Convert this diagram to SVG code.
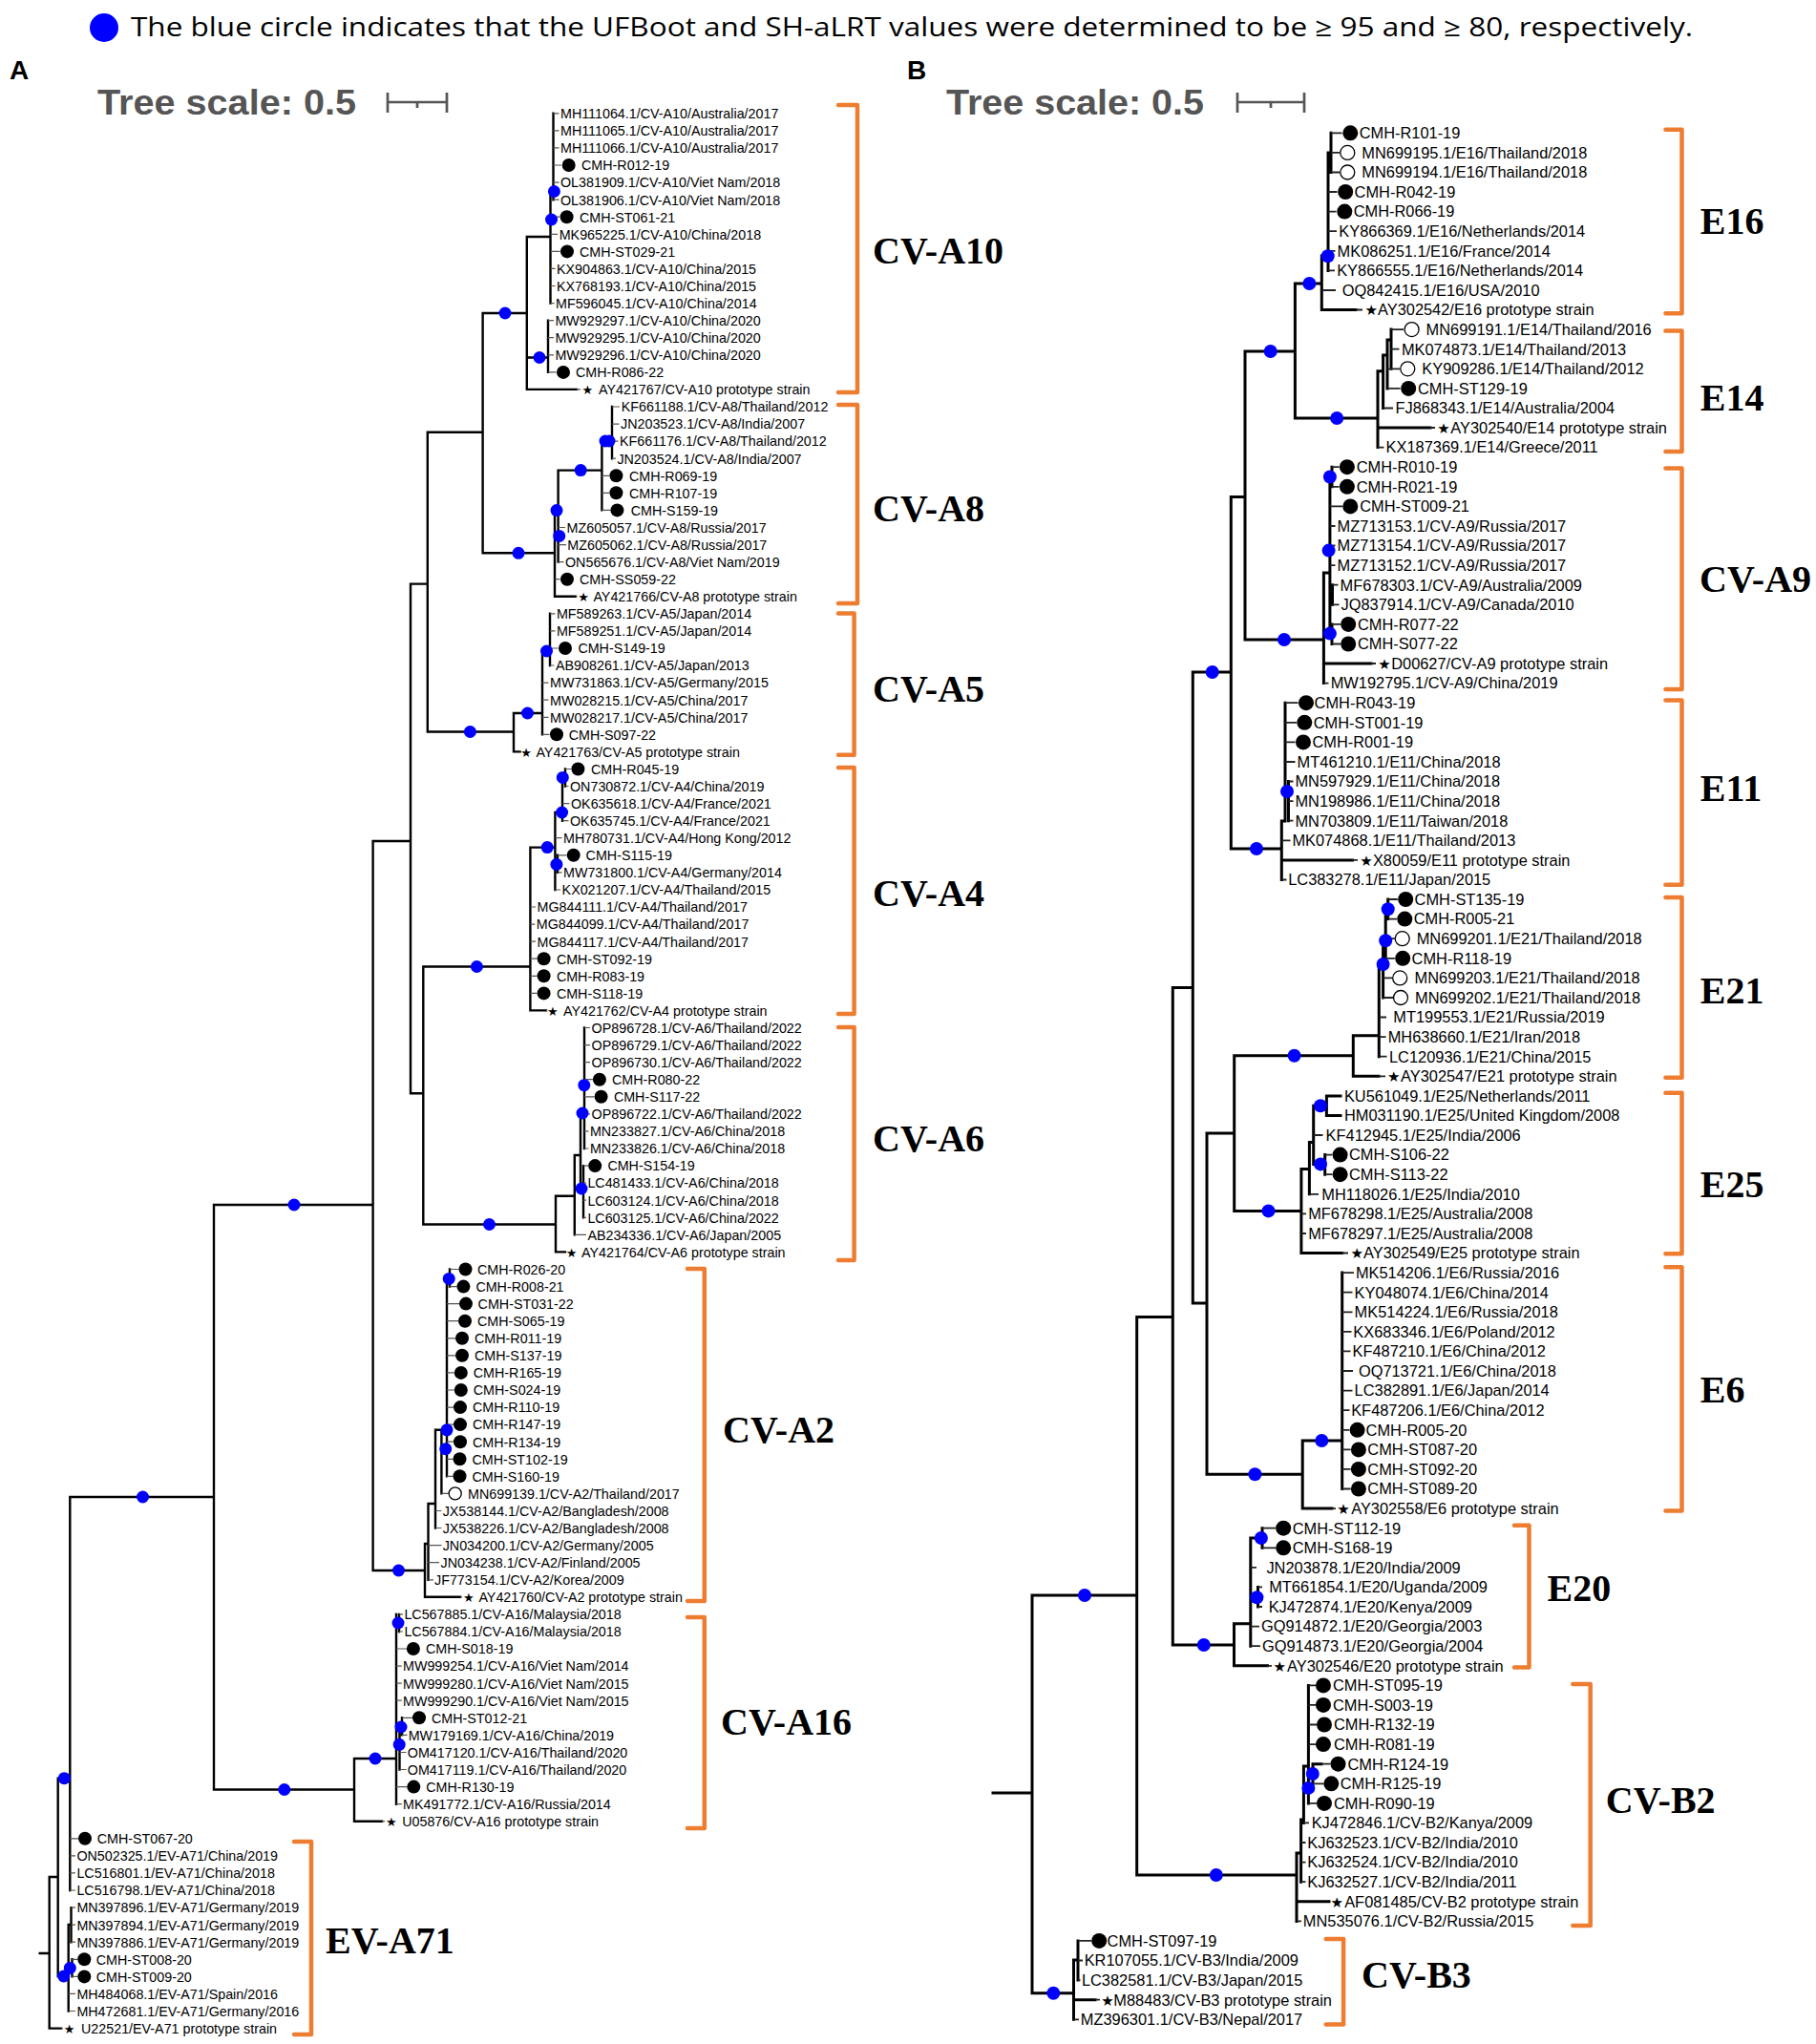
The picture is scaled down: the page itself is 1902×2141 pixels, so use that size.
<svg xmlns="http://www.w3.org/2000/svg" width="1902" height="2141" viewBox="0 0 1902 2141">
<style>
text{font-family:"Liberation Sans",Arial,sans-serif;fill:#000}
.a{font-size:14.3px}
.b{font-size:16.4px}
.st{font-family:"DejaVu Sans",sans-serif;font-size:13px}
.stb{font-family:"DejaVu Sans",sans-serif;font-size:15px}
.cl{font-family:"Liberation Serif","Times New Roman",serif;font-weight:bold;font-size:40px}
.ts{font-weight:bold;font-size:36px;fill:#555}
.pl{font-weight:bold;font-size:28px}
.e{fill:none;stroke:#000;stroke-width:2.4;stroke-linecap:square}
.eb{fill:none;stroke:#000;stroke-width:3;stroke-linecap:square}
.lf{fill:none;stroke:#555;stroke-width:1.2}
.lfb{fill:none;stroke:#222;stroke-width:1.8}
.br{fill:none;stroke:#ED7D31;stroke-width:4.5;stroke-linejoin:round;stroke-linecap:round}
.sc{fill:none;stroke:#555;stroke-width:2.7}
.k{fill:#000}
.o{fill:#fff;stroke:#000;stroke-width:1.3}
.bd{fill:#0000FF}
</style>
<g id="legend">
<circle class="bd" cx="109" cy="29" r="15"/>
<text x="137" y="38" style="font-family:'Open Sans','Liberation Sans',sans-serif;font-size:27px" textLength="1636" lengthAdjust="spacingAndGlyphs">The blue circle indicates that the UFBoot and SH-aLRT values were determined to be ≥ 95 and ≥ 80, respectively.</text>
<text class="pl" x="10" y="83">A</text>
<text class="pl" x="950" y="83">B</text>
<text class="ts" x="102" y="120" textLength="271" lengthAdjust="spacingAndGlyphs">Tree scale: 0.5</text>
<path class="sc" d="M406 107H468M406 97V118M468 97V118M437 107V113"/>
<text class="ts" x="991" y="120" textLength="270" lengthAdjust="spacingAndGlyphs">Tree scale: 0.5</text>
<path class="sc" d="M1296 107H1366M1296 97V118M1366 97V118M1331 107V113"/>
</g>
<g id="connectors">
<path class="e" d="M41.7 2046H51.7M51.7 1966V2124.6H64M51.7 1966H60.7M60.7 1862.7V2070M60.7 1862.7H73.3M73.3 1568V1980M60.7 2070H71.7M71.7 2016V2106.5M71.7 2016H74.5M74.5 1998.1V2034.2M71.7 2061.4H75.5M75.5 2052.3V2070.4M73.3 1568H224M224 1262V1874.5M224 1262H390.6M224 1874.5H371M371 1842V1907.7H400M371 1842H415M390.6 881V1645M390.6 1645H445M390.6 881H430M430 611.6V1145.3M430 611.6H447.8M447.8 452.8V766.5M447.8 452.8H505.6M447.8 766.5H538M430 1145.3H443.3M443.3 1012.5V1282.5M443.3 1012.5H555.4M443.3 1282.5H582M505.6 328V579.3M505.6 328H551.8M505.6 579.3H581
M551.8 248V407.9H604M551.8 248H576.5M576.5 200V317.6M576.5 200H579.5M579.5 118.8V209.2M551.8 374.5H574M574 335.6V389.9
M581 534.6V624.8H603M581 534.6H584.6M584.6 492.6V588.6M584.6 492.6H630.4M630.4 462V534.4M630.4 462H641M641 426V480.2
M538 747V787.4H544.6M538 747H568M568 682V769.3M568 682H576M576 642.8V697
M555.4 887.6V1058.4H572M555.4 887.6H581.4M581.4 851V932M581.4 851H589M589 814.4V859.7M589 814.4H592M592 805.5V823.5M581.4 905.4H584M584 895.8V913.9
M582 1252.8V1311.4H592M582 1252.8H601.8M601.8 1210V1293.4M601.8 1210H608M608 1166V1245M608 1166H612M612 1076.5V1203M608 1245H611M611 1221.1V1275.3
M445 1617V1672.8H482M445 1617H448.5M448.5 1575V1654.8M448.5 1575H456M456 1497.8V1600.5M456 1497.8H468M462.4 1497.8V1564.4M468 1339.4V1546.3M468 1339.4H471M471 1329.5V1347.6
M415 1690.9V1889.7M415 1700H418M418 1690.9V1709M415 1827.3H418.5M418.5 1809V1853.5M418.5 1809H421M421 1799.3V1817.4"/>
<path class="lf" d="M579.5 118.8H585.5M579.5 136.9H585.5M579.5 154.9H585.5M579.5 173H588M579.5 191.1H585.5M579.5 209.2H585.5M576.5 227.2H586M576.5 245.3H584M576.5 263.4H586.5M576.5 281.4H581.5M576.5 299.5H581.5M576.5 317.6H580.5M574 335.6H580M574 353.7H580M574 371.8H580M574 389.9H582.5M604 407.9H608
M641 426H649M641 444.1H648.5M641 462.1H647.5M641 480.2H645M630.4 498.3H638M630.4 516.3H638M630.4 534.4H639M584.6 552.5H592M584.6 570.6H593M584.6 588.6H590.5M581 606.7H586.5M603 624.8H604
M576 642.8H581.5M576 660.9H581.5M576 679H584.5M576 697H580.5M568 715.1H574.5M568 733.2H574.5M568 751.3H574.5M568 769.3H575.5M544.6 787.4H545
M592 805.5H598M592 823.5H595.5M589 841.6H596.5M589 859.7H595.5M581.4 877.7H588.5M584 895.8H593.5M584 913.9H588.5M581.4 932H587M555.4 950H561M555.4 968.1H560.3M555.4 986.2H561M555.4 1004.2H562.5M555.4 1022.3H562.5M555.4 1040.4H562.5M572 1058.4H573
M612 1076.5H618M612 1094.6H618M612 1112.7H618M612 1130.7H620.8M612 1148.8H622.5M612 1166.9H618M612 1184.9H616.5M612 1203H616.5M611 1221.1H616M611 1239.1H614M611 1257.2H614M611 1275.3H614M601.8 1293.4H614
M471 1329.5H480.5M471 1347.6H478.4M468 1365.6H481M468 1383.7H480M468 1401.8H477M468 1419.8H477M468 1437.9H475.8M468 1456H475.8M468 1474.1H475M468 1492.1H475M468 1510.2H475M468 1528.3H474.5M468 1546.3H474.5M462.4 1564.4H470M456 1582.5H462.5M456 1600.5H462.5M448.5 1618.6H462.5M448.5 1636.7H460M448.5 1654.8H454M482 1672.8H484
M418 1690.9H422M418 1709H422M415 1727H426M415 1745.1H420.8M415 1763.2H420.8M415 1781.2H420.8M421 1799.3H432M421 1817.4H426.5M418.5 1835.5H425.5M418.5 1853.5H425.5M415 1871.6H426.3M415 1889.7H420.8M400 1907.7H403
M73.3 1925.8H82M73.3 1943.9H79M73.3 1961.9H79M73.3 1980H79M74.5 1998.1H79M74.5 2016.2H79M74.5 2034.2H79M75.5 2052.3H81.3M75.5 2070.4H81.3M71.7 2088.4H79M71.7 2106.5H79M64 2124.6H66"/>
<path class="eb" d="M1040 1878H1081M1081 1671V2087.7M1081 1671H1190.7M1081 2087.7H1124.5M1190.7 1379.6V1964M1190.7 1964H1358M1190.7 1379.6H1228.3M1228.3 1034.6V1723M1228.3 1723H1292.5M1228.3 1034.6H1249.3M1249.3 704V1365M1249.3 704H1289.3M1249.3 1365H1264M1264 1187V1544.2M1264 1187H1292.7M1292.7 1105.8V1268.4M1292.7 1105.8H1417.3M1292.7 1268.4H1362.9M1264 1544.2H1364.2M1289.3 520.4V889M1289.3 520.4H1304M1304 368V670M1304 368H1356.4M1304 670H1386.4M1289.3 889H1342.3
M1356.4 297V438M1356.4 297H1384.3M1356.4 438H1443M1384.3 268V324.5H1420M1384.3 268H1391M1391 159.9V283.4M1391 159.9H1394M1394 139.3V180.5
M1443 388.8V468.6M1443 448H1498M1443 388.8H1448.6M1448.6 372V427.5M1448.6 372H1453M1453 356V406.9M1453 356H1457M1457 345.1V386.3
M1386.4 600V715.6M1386.4 695H1436M1386.4 600H1392.9M1392.9 499.5V663.6M1392.9 499.5H1395M1395 489.2V509.8M1392.9 623H1395.5M1395.5 612.7V633.3M1392.9 663.6H1395M1395 653.9V674.5
M1342.3 860V921.5M1342.3 900.9H1416.5M1342.3 860H1346M1346 736.2V860M1346 829H1349.5M1349.5 818.5V859.7
M1417.3 1084.7V1127.3H1444M1417.3 1084.7H1444.3M1444.3 1010V1106.7M1444.3 1010H1448.6M1448.6 983.2V1045M1448.6 985.2H1451.2M1451.2 952.3V1003.8M1451.2 952.3H1453.7M1453.7 942V962.6
M1362.9 1224.4V1312.5H1405.7M1362.9 1224.4H1371.4M1371.4 1196.5V1250.8M1371.4 1196.5H1375.7M1375.7 1158.2V1219.4M1375.7 1219.4H1387.7M1387.7 1209.6V1230.2M1375.7 1158.2H1389.4M1389.4 1147.9V1168.5M1389.4 1147.9H1404M1389.4 1168.5H1404
M1364.2 1509V1580.1H1395M1364.2 1509H1405.7M1405.7 1333.1V1559.5
M1292.5 1700.7V1744.8H1327.5M1292.5 1700.7H1309.8M1309.8 1611V1724.2M1309.8 1611H1322M1322 1600.7V1621.3M1309.8 1673.3H1317.5M1317.5 1662.4V1683
M1358 1941V2012.4M1358 1991.8H1392M1358 1941H1362.6M1362.6 1906V1971.2M1362.6 1906H1365.4M1365.4 1850V1909.4M1365.4 1850H1370.4M1370.4 1765.4V1888.9M1370.4 1858H1375M1375 1847.7V1868.3M1375 1847.7H1384
M1124.5 2053V2115.3M1124.5 2094.7H1147M1124.5 2053H1129M1129 2032.9V2074.1"/>
<path class="lfb" d="M1394 139.3H1405.5M1394 159.9H1403M1394 180.5H1403M1391 201H1400.5M1391 221.6H1399.5M1391 242.2H1400M1391 262.8H1398.5M1391 283.4H1398M1384.3 304H1399M1420 324.5H1427
M1457 345.1H1470M1457 365.7H1465.5M1453 386.3H1466M1453 406.9H1466.5M1448.6 427.5H1459M1498 448H1503M1443 468.6H1449.5
M1395 489.2H1402.5M1395 509.8H1402.5M1392.9 530.4H1406M1392.9 551H1398.5M1392.9 571.5H1398.5M1392.9 592.1H1398.5M1395.5 612.7H1401.5M1395.5 633.3H1402.5M1395 653.9H1404M1395 674.5H1404M1436 695H1441M1386.4 715.6H1391.5
M1346 736.2H1359.5M1346 756.8H1358M1346 777.4H1356.5M1346 798H1356.5M1349.5 818.5H1354.5M1349.5 839.1H1354.5M1349.5 859.7H1354.5M1342.3 880.3H1351.5M1416.5 900.9H1422M1342.3 921.5H1347.5
M1453.7 942H1463.8M1453.7 962.6H1463M1451.2 983.2H1460.8M1451.2 1003.8H1460.8M1448.6 1024.4H1458.5M1448.6 1045H1459.3M1444.3 1065.5H1452M1444.3 1086.1H1451.5M1444.3 1106.7H1452.5M1444 1127.3H1451
M1375.7 1189H1385.5M1387.7 1209.6H1395.3M1387.7 1230.2H1395.3M1371.4 1250.8H1381M1362.9 1271.4H1368M1362.9 1292H1368M1405.7 1312.5H1412
M1405.7 1333.1H1418M1405.7 1353.7H1416.5M1405.7 1374.3H1416.5M1405.7 1394.9H1415.5M1405.7 1415.4H1414.5M1405.7 1436H1417M1405.7 1456.6H1416.5M1405.7 1477.2H1413.5M1405.7 1497.8H1413.3M1405.7 1518.4H1414.6M1405.7 1538.9H1414.6M1405.7 1559.5H1414.6M1395 1580.1H1399
M1322 1600.7H1336M1322 1621.3H1336M1309.8 1641.9H1316M1317.5 1662.4H1322M1317.5 1683H1322M1309.8 1703.6H1319M1309.8 1724.2H1320M1327.5 1744.8H1332
M1370.4 1765.4H1378M1370.4 1785.9H1378M1370.4 1806.5H1379M1370.4 1827.1H1378M1384 1847.7H1393.5M1375 1868.3H1386.3M1370.4 1888.9H1379M1365.4 1909.4H1371M1362.6 1930H1367.5M1362.6 1950.6H1367.5M1362.6 1971.2H1367.5M1358 2012.4H1363
M1129 2032.9H1143M1129 2053.5H1134M1129 2074.1H1131.5M1147 2094.7H1152M1124.5 2115.3H1130"/>
</g>
<g id="support">
<g class="bd">
<circle cx="149.5" cy="1568" r="6.5"/><circle cx="308" cy="1262" r="6.5"/><circle cx="297.8" cy="1874.5" r="6.5"/><circle cx="393" cy="1842" r="6.5"/><circle cx="417.5" cy="1645" r="6.5"/><circle cx="492.4" cy="766.5" r="6.5"/><circle cx="499.4" cy="1012.5" r="6.5"/><circle cx="512.5" cy="1282.5" r="6.5"/><circle cx="529" cy="328" r="6.5"/><circle cx="543" cy="579.3" r="6.5"/>
<circle cx="67.3" cy="1862.7" r="6.5"/><circle cx="66.7" cy="2070" r="6.5"/><circle cx="73.3" cy="2061.4" r="6.5"/>
<circle cx="580.4" cy="200.5" r="6.5"/><circle cx="577.5" cy="230" r="6.5"/><circle cx="565" cy="374.5" r="6.5"/>
<circle cx="583" cy="534.6" r="6.5"/><circle cx="585.7" cy="561.4" r="6.5"/><circle cx="608.2" cy="492.6" r="6.5"/><circle cx="634" cy="462" r="6.5"/><circle cx="638" cy="462" r="6.5"/>
<circle cx="552.5" cy="747" r="6.5"/><circle cx="572.5" cy="682" r="6.5"/>
<circle cx="573.2" cy="887.6" r="6.5"/><circle cx="588.6" cy="851" r="6.5"/><circle cx="589.3" cy="814.4" r="6.5"/><circle cx="582.9" cy="905.4" r="6.5"/>
<circle cx="610" cy="1166" r="6.5"/><circle cx="611.8" cy="1136.7" r="6.5"/><circle cx="609" cy="1245" r="6.5"/>
<circle cx="470.2" cy="1339.4" r="6.5"/><circle cx="468" cy="1497.8" r="6.5"/><circle cx="466.7" cy="1517.7" r="6.5"/>
<circle cx="417" cy="1700" r="6.5"/><circle cx="420" cy="1809" r="6.5"/><circle cx="418.2" cy="1827.3" r="6.5"/>
<circle cx="1136" cy="1671" r="7"/><circle cx="1103.3" cy="2087.7" r="7"/><circle cx="1273.8" cy="1964" r="7"/><circle cx="1260.8" cy="1723" r="7"/><circle cx="1269.7" cy="704" r="7"/><circle cx="1355.6" cy="1105.8" r="7"/><circle cx="1328.5" cy="1268.4" r="7"/><circle cx="1314.4" cy="1544.2" r="7"/><circle cx="1330.7" cy="368" r="7"/><circle cx="1345" cy="670" r="7"/><circle cx="1316" cy="889" r="7"/>
<circle cx="1371.4" cy="297" r="7"/><circle cx="1400.2" cy="438" r="7"/><circle cx="1390.7" cy="268.2" r="7"/>
<circle cx="1392.9" cy="499.5" r="7"/><circle cx="1391.6" cy="576.6" r="7"/><circle cx="1392.9" cy="663.6" r="7"/>
<circle cx="1348" cy="829" r="7"/>
<circle cx="1453.7" cy="952.3" r="7"/><circle cx="1451.2" cy="985.2" r="7"/><circle cx="1448.6" cy="1010" r="7"/>
<circle cx="1383" cy="1158.2" r="7"/><circle cx="1383" cy="1219.4" r="7"/>
<circle cx="1384.3" cy="1509" r="7"/>
<circle cx="1320.9" cy="1611" r="7"/><circle cx="1316.4" cy="1673.3" r="7"/>
<circle cx="1374.8" cy="1858" r="7"/><circle cx="1370.4" cy="1872.9" r="7"/>
</g>
</g>
<g id="brackets">
<path class="br" d="M878 110H898V411H878M878 424H898V632H878M878 642.5H894.6V790.7H878M878 804H894.6V1062H878M878 1076H894.6V1320H878M720 1329H737.8V1677H720M720 1694H737.8V1915H720M308 1929H326V2131H308"/>
<path class="br" d="M1744.4 135.7H1761.5V328.3H1744.4M1744.4 346.5H1761.5V473H1744.4M1744.4 490.4H1761.5V722H1744.4M1744.4 733.4H1761.5V926.7H1744.4M1744.4 940H1761.5V1128.7H1744.4M1744.4 1144.8H1761.5V1313.2H1744.4M1744.4 1327.2H1761.5V1582.5H1744.4M1586 1597.7H1601.5V1746.6H1586M1647.3 1764H1665.7V2017H1647.3M1388.7 2031H1407.1V2120.6H1388.7"/>
</g>
<g id="clades">
<text class="cl" x="914" y="275.6">CV-A10</text>
<text class="cl" x="914" y="546">CV-A8</text>
<text class="cl" x="914" y="735">CV-A5</text>
<text class="cl" x="914" y="949">CV-A4</text>
<text class="cl" x="914" y="1206">CV-A6</text>
<text class="cl" x="757" y="1511">CV-A2</text>
<text class="cl" x="755" y="1817">CV-A16</text>
<text class="cl" x="341" y="2046">EV-A71</text>
<text class="cl" x="1780.8" y="245">E16</text>
<text class="cl" x="1780.8" y="429.5">E14</text>
<text class="cl" x="1780" y="620">CV-A9</text>
<text class="cl" x="1780.8" y="839.4">E11</text>
<text class="cl" x="1780.8" y="1051">E21</text>
<text class="cl" x="1780.8" y="1254">E25</text>
<text class="cl" x="1780.8" y="1469">E6</text>
<text class="cl" x="1620.6" y="1677">E20</text>
<text class="cl" x="1681.8" y="1899">CV-B2</text>
<text class="cl" x="1426" y="2082">CV-B3</text>
</g>
<g id="leavesA">
<g id="a000"><text class="a" x="587" y="124.1">MH111064.1/CV-A10/Australia/2017</text></g>
<g id="a001"><text class="a" x="587" y="142.2">MH111065.1/CV-A10/Australia/2017</text></g>
<g id="a002"><text class="a" x="587" y="160.2">MH111066.1/CV-A10/Australia/2017</text></g>
<g id="a003"><circle class="k" cx="595.7" cy="173" r="7"/><text class="a" x="609" y="178.3">CMH-R012-19</text></g>
<g id="a004"><text class="a" x="587" y="196.4">OL381909.1/CV-A10/Viet Nam/2018</text></g>
<g id="a005"><text class="a" x="587" y="214.5">OL381906.1/CV-A10/Viet Nam/2018</text></g>
<g id="a006"><circle class="k" cx="593.6" cy="227.2" r="7"/><text class="a" x="607" y="232.5">CMH-ST061-21</text></g>
<g id="a007"><text class="a" x="585.7" y="250.6">MK965225.1/CV-A10/China/2018</text></g>
<g id="a008"><circle class="k" cx="594" cy="263.4" r="7"/><text class="a" x="607" y="268.7">CMH-ST029-21</text></g>
<g id="a009"><text class="a" x="583" y="286.7">KX904863.1/CV-A10/China/2015</text></g>
<g id="a010"><text class="a" x="583" y="304.8">KX768193.1/CV-A10/China/2015</text></g>
<g id="a011"><text class="a" x="582" y="322.9">MF596045.1/CV-A10/China/2014</text></g>
<g id="a012"><text class="a" x="581.4" y="340.9">MW929297.1/CV-A10/China/2020</text></g>
<g id="a013"><text class="a" x="581.4" y="359">MW929295.1/CV-A10/China/2020</text></g>
<g id="a014"><text class="a" x="581.4" y="377.1">MW929296.1/CV-A10/China/2020</text></g>
<g id="a015"><circle class="k" cx="590" cy="389.9" r="7"/><text class="a" x="603" y="395.2">CMH-R086-22</text></g>
<g id="a016"><text class="a" y="413.2"><tspan class="st" x="609.5">★ </tspan><tspan x="627">AY421767/CV-A10 prototype strain</tspan></text></g>
<g id="a017"><text class="a" x="650.7" y="431.3">KF661188.1/CV-A8/Thailand/2012</text></g>
<g id="a018"><text class="a" x="650" y="449.4">JN203523.1/CV-A8/India/2007</text></g>
<g id="a019"><text class="a" x="649" y="467.4">KF661176.1/CV-A8/Thailand/2012</text></g>
<g id="a020"><text class="a" x="646.4" y="485.5">JN203524.1/CV-A8/India/2007</text></g>
<g id="a021"><circle class="k" cx="645.4" cy="498.3" r="7"/><text class="a" x="659" y="503.6">CMH-R069-19</text></g>
<g id="a022"><circle class="k" cx="645.4" cy="516.3" r="7"/><text class="a" x="659" y="521.6">CMH-R107-19</text></g>
<g id="a023"><circle class="k" cx="646.4" cy="534.4" r="7"/><text class="a" x="660.7" y="539.7">CMH-S159-19</text></g>
<g id="a024"><text class="a" x="593.6" y="557.8">MZ605057.1/CV-A8/Russia/2017</text></g>
<g id="a025"><text class="a" x="594.3" y="575.9">MZ605062.1/CV-A8/Russia/2017</text></g>
<g id="a026"><text class="a" x="592" y="593.9">ON565676.1/CV-A8/Viet Nam/2019</text></g>
<g id="a027"><circle class="k" cx="594" cy="606.7" r="7"/><text class="a" x="607" y="612">CMH-SS059-22</text></g>
<g id="a028"><text class="a" y="630.1"><tspan class="st" x="605.2">★ </tspan><tspan x="621.4">AY421766/CV-A8 prototype strain</tspan></text></g>
<g id="a029"><text class="a" x="582.9" y="648.1">MF589263.1/CV-A5/Japan/2014</text></g>
<g id="a030"><text class="a" x="582.9" y="666.2">MF589251.1/CV-A5/Japan/2014</text></g>
<g id="a031"><circle class="k" cx="592" cy="679" r="7"/><text class="a" x="605.4" y="684.3">CMH-S149-19</text></g>
<g id="a032"><text class="a" x="582" y="702.3">AB908261.1/CV-A5/Japan/2013</text></g>
<g id="a033"><text class="a" x="576" y="720.4">MW731863.1/CV-A5/Germany/2015</text></g>
<g id="a034"><text class="a" x="576" y="738.5">MW028215.1/CV-A5/China/2017</text></g>
<g id="a035"><text class="a" x="576" y="756.6">MW028217.1/CV-A5/China/2017</text></g>
<g id="a036"><circle class="k" cx="583" cy="769.3" r="7"/><text class="a" x="595.7" y="774.6">CMH-S097-22</text></g>
<g id="a037"><text class="a" y="792.7"><tspan class="st" x="545.2">★ </tspan><tspan x="561.4">AY421763/CV-A5 prototype strain</tspan></text></g>
<g id="a038"><circle class="k" cx="605.4" cy="805.5" r="7"/><text class="a" x="619" y="810.8">CMH-R045-19</text></g>
<g id="a039"><text class="a" x="597" y="828.8">ON730872.1/CV-A4/China/2019</text></g>
<g id="a040"><text class="a" x="598" y="846.9">OK635618.1/CV-A4/France/2021</text></g>
<g id="a041"><text class="a" x="597" y="865">OK635745.1/CV-A4/France/2021</text></g>
<g id="a042"><text class="a" x="590" y="883">MH780731.1/CV-A4/Hong Kong/2012</text></g>
<g id="a043"><circle class="k" cx="600.7" cy="895.8" r="7"/><text class="a" x="613.6" y="901.1">CMH-S115-19</text></g>
<g id="a044"><text class="a" x="590" y="919.2">MW731800.1/CV-A4/Germany/2014</text></g>
<g id="a045"><text class="a" x="588.6" y="937.3">KX021207.1/CV-A4/Thailand/2015</text></g>
<g id="a046"><text class="a" x="562.5" y="955.3">MG844111.1/CV-A4/Thailand/2017</text></g>
<g id="a047"><text class="a" x="561.8" y="973.4">MG844099.1/CV-A4/Thailand/2017</text></g>
<g id="a048"><text class="a" x="562.5" y="991.5">MG844117.1/CV-A4/Thailand/2017</text></g>
<g id="a049"><circle class="k" cx="569.6" cy="1004.2" r="7"/><text class="a" x="582.9" y="1009.5">CMH-ST092-19</text></g>
<g id="a050"><circle class="k" cx="569.6" cy="1022.3" r="7"/><text class="a" x="582.9" y="1027.6">CMH-R083-19</text></g>
<g id="a051"><circle class="k" cx="569.6" cy="1040.4" r="7"/><text class="a" x="582.9" y="1045.7">CMH-S118-19</text></g>
<g id="a052"><text class="a" y="1063.7"><tspan class="st" x="573.1">★ </tspan><tspan x="590">AY421762/CV-A4 prototype strain</tspan></text></g>
<g id="a053"><text class="a" x="619.6" y="1081.8">OP896728.1/CV-A6/Thailand/2022</text></g>
<g id="a054"><text class="a" x="619.6" y="1099.9">OP896729.1/CV-A6/Thailand/2022</text></g>
<g id="a055"><text class="a" x="619.6" y="1118">OP896730.1/CV-A6/Thailand/2022</text></g>
<g id="a056"><circle class="k" cx="627.9" cy="1130.7" r="7"/><text class="a" x="641" y="1136">CMH-R080-22</text></g>
<g id="a057"><circle class="k" cx="629.6" cy="1148.8" r="7"/><text class="a" x="642.9" y="1154.1">CMH-S117-22</text></g>
<g id="a058"><text class="a" x="619.6" y="1172.2">OP896722.1/CV-A6/Thailand/2022</text></g>
<g id="a059"><text class="a" x="617.9" y="1190.2">MN233827.1/CV-A6/China/2018</text></g>
<g id="a060"><text class="a" x="617.9" y="1208.3">MN233826.1/CV-A6/China/2018</text></g>
<g id="a061"><circle class="k" cx="623.2" cy="1221.1" r="7"/><text class="a" x="636.4" y="1226.4">CMH-S154-19</text></g>
<g id="a062"><text class="a" x="615.4" y="1244.4">LC481433.1/CV-A6/China/2018</text></g>
<g id="a063"><text class="a" x="615.4" y="1262.5">LC603124.1/CV-A6/China/2018</text></g>
<g id="a064"><text class="a" x="615.4" y="1280.6">LC603125.1/CV-A6/China/2022</text></g>
<g id="a065"><text class="a" x="615.4" y="1298.7">AB234336.1/CV-A6/Japan/2005</text></g>
<g id="a066"><text class="a" y="1316.7"><tspan class="st" x="592.7">★ </tspan><tspan x="609">AY421764/CV-A6 prototype strain</tspan></text></g>
<g id="a067"><circle class="k" cx="487.5" cy="1329.5" r="7"/><text class="a" x="500" y="1334.8">CMH-R026-20</text></g>
<g id="a068"><circle class="k" cx="485.4" cy="1347.6" r="7"/><text class="a" x="498.4" y="1352.9">CMH-R008-21</text></g>
<g id="a069"><circle class="k" cx="488" cy="1365.6" r="7"/><text class="a" x="500.6" y="1370.9">CMH-ST031-22</text></g>
<g id="a070"><circle class="k" cx="487" cy="1383.7" r="7"/><text class="a" x="500" y="1389">CMH-S065-19</text></g>
<g id="a071"><circle class="k" cx="484" cy="1401.8" r="7"/><text class="a" x="497" y="1407.1">CMH-R011-19</text></g>
<g id="a072"><circle class="k" cx="484" cy="1419.8" r="7"/><text class="a" x="497" y="1425.1">CMH-S137-19</text></g>
<g id="a073"><circle class="k" cx="482.8" cy="1437.9" r="7"/><text class="a" x="495.8" y="1443.2">CMH-R165-19</text></g>
<g id="a074"><circle class="k" cx="482.8" cy="1456" r="7"/><text class="a" x="495.8" y="1461.3">CMH-S024-19</text></g>
<g id="a075"><circle class="k" cx="482" cy="1474.1" r="7"/><text class="a" x="495" y="1479.4">CMH-R110-19</text></g>
<g id="a076"><circle class="k" cx="482" cy="1492.1" r="7"/><text class="a" x="495" y="1497.4">CMH-R147-19</text></g>
<g id="a077"><circle class="k" cx="482" cy="1510.2" r="7"/><text class="a" x="495" y="1515.5">CMH-R134-19</text></g>
<g id="a078"><circle class="k" cx="481.5" cy="1528.3" r="7"/><text class="a" x="494.5" y="1533.6">CMH-ST102-19</text></g>
<g id="a079"><circle class="k" cx="481.5" cy="1546.3" r="7"/><text class="a" x="494.5" y="1551.6">CMH-S160-19</text></g>
<g id="a080"><circle class="o" cx="476.7" cy="1564.4" r="6.5"/><text class="a" x="490" y="1569.7">MN699139.1/CV-A2/Thailand/2017</text></g>
<g id="a081"><text class="a" x="463.7" y="1587.8">JX538144.1/CV-A2/Bangladesh/2008</text></g>
<g id="a082"><text class="a" x="463.7" y="1605.8">JX538226.1/CV-A2/Bangladesh/2008</text></g>
<g id="a083"><text class="a" x="463.7" y="1623.9">JN034200.1/CV-A2/Germany/2005</text></g>
<g id="a084"><text class="a" x="461.5" y="1642">JN034238.1/CV-A2/Finland/2005</text></g>
<g id="a085"><text class="a" x="455" y="1660.1">JF773154.1/CV-A2/Korea/2009</text></g>
<g id="a086"><text class="a" y="1678.1"><tspan class="st" x="485.1">★ </tspan><tspan x="501.4">AY421760/CV-A2 prototype strain</tspan></text></g>
<g id="a087"><text class="a" x="423.4" y="1696.2">LC567885.1/CV-A16/Malaysia/2018</text></g>
<g id="a088"><text class="a" x="423.4" y="1714.3">LC567884.1/CV-A16/Malaysia/2018</text></g>
<g id="a089"><circle class="k" cx="432.9" cy="1727" r="7"/><text class="a" x="446" y="1732.3">CMH-S018-19</text></g>
<g id="a090"><text class="a" x="422" y="1750.4">MW999254.1/CV-A16/Viet Nam/2014</text></g>
<g id="a091"><text class="a" x="422" y="1768.5">MW999280.1/CV-A16/Viet Nam/2015</text></g>
<g id="a092"><text class="a" x="422" y="1786.5">MW999290.1/CV-A16/Viet Nam/2015</text></g>
<g id="a093"><circle class="k" cx="439" cy="1799.3" r="7"/><text class="a" x="452" y="1804.6">CMH-ST012-21</text></g>
<g id="a094"><text class="a" x="427.7" y="1822.7">MW179169.1/CV-A16/China/2019</text></g>
<g id="a095"><text class="a" x="426.8" y="1840.8">OM417120.1/CV-A16/Thailand/2020</text></g>
<g id="a096"><text class="a" x="426.8" y="1858.8">OM417119.1/CV-A16/Thailand/2020</text></g>
<g id="a097"><circle class="k" cx="433.3" cy="1871.6" r="7"/><text class="a" x="446.3" y="1876.9">CMH-R130-19</text></g>
<g id="a098"><text class="a" x="422" y="1895">MK491772.1/CV-A16/Russia/2014</text></g>
<g id="a099"><text class="a" y="1913"><tspan class="st" x="404">★ </tspan><tspan x="421.2">U05876/CV-A16 prototype strain</tspan></text></g>
<g id="a100"><circle class="k" cx="89" cy="1925.8" r="7"/><text class="a" x="101.7" y="1931.1">CMH-ST067-20</text></g>
<g id="a101"><text class="a" x="80.4" y="1949.2">ON502325.1/EV-A71/China/2019</text></g>
<g id="a102"><text class="a" x="80.4" y="1967.2">LC516801.1/EV-A71/China/2018</text></g>
<g id="a103"><text class="a" x="80.4" y="1985.3">LC516798.1/EV-A71/China/2018</text></g>
<g id="a104"><text class="a" x="80.4" y="2003.4">MN397896.1/EV-A71/Germany/2019</text></g>
<g id="a105"><text class="a" x="80.4" y="2021.5">MN397894.1/EV-A71/Germany/2019</text></g>
<g id="a106"><text class="a" x="80.4" y="2039.5">MN397886.1/EV-A71/Germany/2019</text></g>
<g id="a107"><circle class="k" cx="88.3" cy="2052.3" r="7"/><text class="a" x="100.7" y="2057.6">CMH-ST008-20</text></g>
<g id="a108"><circle class="k" cx="88.3" cy="2070.4" r="7"/><text class="a" x="100.7" y="2075.7">CMH-ST009-20</text></g>
<g id="a109"><text class="a" x="80.4" y="2093.7">MH484068.1/EV-A71/Spain/2016</text></g>
<g id="a110"><text class="a" x="80.4" y="2111.8">MH472681.1/EV-A71/Germany/2016</text></g>
<g id="a111"><text class="a" y="2129.9"><tspan class="st" x="66.8">★ </tspan><tspan x="85">U22521/EV-A71 prototype strain</tspan></text></g>
</g>
<g id="leavesB">
<g id="b00"><circle class="k" cx="1414.3" cy="139.3" r="8"/><text class="b" x="1423.7" y="145.1">CMH-R101-19</text></g>
<g id="b01"><circle class="o" cx="1411.3" cy="159.9" r="7.5"/><text class="b" x="1426.3" y="165.7">MN699195.1/E16/Thailand/2018</text></g>
<g id="b02"><circle class="o" cx="1411.3" cy="180.5" r="7.5"/><text class="b" x="1426.3" y="186.3">MN699194.1/E16/Thailand/2018</text></g>
<g id="b03"><circle class="k" cx="1409.2" cy="201" r="8"/><text class="b" x="1418.6" y="206.8">CMH-R042-19</text></g>
<g id="b04"><circle class="k" cx="1408.3" cy="221.6" r="8"/><text class="b" x="1417.7" y="227.4">CMH-R066-19</text></g>
<g id="b05"><text class="b" x="1402.3" y="248">KY866369.1/E16/Netherlands/2014</text></g>
<g id="b06"><text class="b" x="1400.6" y="268.6">MK086251.1/E16/France/2014</text></g>
<g id="b07"><text class="b" x="1400.2" y="289.2">KY866555.1/E16/Netherlands/2014</text></g>
<g id="b08"><text class="b" x="1405.7" y="309.8">OQ842415.1/E16/USA/2010</text></g>
<g id="b09"><text class="b" y="330.3"><tspan class="stb" x="1429.4">★</tspan><tspan x="1443">AY302542/E16 prototype strain</tspan></text></g>
<g id="b10"><circle class="o" cx="1478.6" cy="345.1" r="7.5"/><text class="b" x="1493.6" y="350.9">MN699191.1/E14/Thailand/2016</text></g>
<g id="b11"><text class="b" x="1467.9" y="371.5">MK074873.1/E14/Thailand/2013</text></g>
<g id="b12"><circle class="o" cx="1474.3" cy="386.3" r="7.5"/><text class="b" x="1489.3" y="392.1">KY909286.1/E14/Thailand/2012</text></g>
<g id="b13"><circle class="k" cx="1475.2" cy="406.9" r="8"/><text class="b" x="1485" y="412.7">CMH-ST129-19</text></g>
<g id="b14"><text class="b" x="1461.5" y="433.3">FJ868343.1/E14/Australia/2004</text></g>
<g id="b15"><text class="b" y="453.8"><tspan class="stb" x="1505.3">★</tspan><tspan x="1519.3">AY302540/E14 prototype strain</tspan></text></g>
<g id="b16"><text class="b" x="1451.6" y="474.4">KX187369.1/E14/Greece/2011</text></g>
<g id="b17"><circle class="k" cx="1410.9" cy="489.2" r="8"/><text class="b" x="1420.7" y="495">CMH-R010-19</text></g>
<g id="b18"><circle class="k" cx="1410.9" cy="509.8" r="8"/><text class="b" x="1420.7" y="515.6">CMH-R021-19</text></g>
<g id="b19"><circle class="k" cx="1414.3" cy="530.4" r="8"/><text class="b" x="1424.2" y="536.2">CMH-ST009-21</text></g>
<g id="b20"><text class="b" x="1400.6" y="556.8">MZ713153.1/CV-A9/Russia/2017</text></g>
<g id="b21"><text class="b" x="1400.6" y="577.3">MZ713154.1/CV-A9/Russia/2017</text></g>
<g id="b22"><text class="b" x="1400.6" y="597.9">MZ713152.1/CV-A9/Russia/2017</text></g>
<g id="b23"><text class="b" x="1403.6" y="618.5">MF678303.1/CV-A9/Australia/2009</text></g>
<g id="b24"><text class="b" x="1404.5" y="639.1">JQ837914.1/CV-A9/Canada/2010</text></g>
<g id="b25"><circle class="k" cx="1412.2" cy="653.9" r="8"/><text class="b" x="1422" y="659.7">CMH-R077-22</text></g>
<g id="b26"><circle class="k" cx="1412.2" cy="674.5" r="8"/><text class="b" x="1422" y="680.3">CMH-S077-22</text></g>
<g id="b27"><text class="b" y="700.8"><tspan class="stb" x="1443.2">★</tspan><tspan x="1457.2">D00627/CV-A9 prototype strain</tspan></text></g>
<g id="b28"><text class="b" x="1393.7" y="721.4">MW192795.1/CV-A9/China/2019</text></g>
<g id="b29"><circle class="k" cx="1368" cy="736.2" r="8"/><text class="b" x="1376.6" y="742">CMH-R043-19</text></g>
<g id="b30"><circle class="k" cx="1366.3" cy="756.8" r="8"/><text class="b" x="1375.7" y="762.6">CMH-ST001-19</text></g>
<g id="b31"><circle class="k" cx="1365" cy="777.4" r="8"/><text class="b" x="1374.4" y="783.2">CMH-R001-19</text></g>
<g id="b32"><text class="b" x="1358.6" y="803.8">MT461210.1/E11/China/2018</text></g>
<g id="b33"><text class="b" x="1356.4" y="824.3">MN597929.1/E11/China/2018</text></g>
<g id="b34"><text class="b" x="1356.4" y="844.9">MN198986.1/E11/China/2018</text></g>
<g id="b35"><text class="b" x="1356.4" y="865.5">MN703809.1/E11/Taiwan/2018</text></g>
<g id="b36"><text class="b" x="1353.4" y="886.1">MK074868.1/E11/Thailand/2013</text></g>
<g id="b37"><text class="b" y="906.7"><tspan class="stb" x="1424.3">★</tspan><tspan x="1437.9">X80059/E11 prototype strain</tspan></text></g>
<g id="b38"><text class="b" x="1349.2" y="927.3">LC383278.1/E11/Japan/2015</text></g>
<g id="b39"><circle class="k" cx="1472.2" cy="942" r="8"/><text class="b" x="1481.6" y="947.8">CMH-ST135-19</text></g>
<g id="b40"><circle class="k" cx="1471.3" cy="962.6" r="8"/><text class="b" x="1480.7" y="968.4">CMH-R005-21</text></g>
<g id="b41"><circle class="o" cx="1468.7" cy="983.2" r="7.5"/><text class="b" x="1483.7" y="989">MN699201.1/E21/Thailand/2018</text></g>
<g id="b42"><circle class="k" cx="1469.2" cy="1003.8" r="8"/><text class="b" x="1478.6" y="1009.6">CMH-R118-19</text></g>
<g id="b43"><circle class="o" cx="1466.2" cy="1024.4" r="7.5"/><text class="b" x="1481.6" y="1030.2">MN699203.1/E21/Thailand/2018</text></g>
<g id="b44"><circle class="o" cx="1467" cy="1045" r="7.5"/><text class="b" x="1482" y="1050.8">MN699202.1/E21/Thailand/2018</text></g>
<g id="b45"><text class="b" x="1459.3" y="1071.3">MT199553.1/E21/Russia/2019</text></g>
<g id="b46"><text class="b" x="1453.7" y="1091.9">MH638660.1/E21/Iran/2018</text></g>
<g id="b47"><text class="b" x="1455" y="1112.5">LC120936.1/E21/China/2015</text></g>
<g id="b48"><text class="b" y="1133.1"><tspan class="stb" x="1453">★</tspan><tspan x="1467">AY302547/E21 prototype strain</tspan></text></g>
<g id="b49"><text class="b" x="1407.9" y="1153.7">KU561049.1/E25/Netherlands/2011</text></g>
<g id="b50"><text class="b" x="1407.9" y="1174.3">HM031190.1/E25/United Kingdom/2008</text></g>
<g id="b51"><text class="b" x="1388.6" y="1194.8">KF412945.1/E25/India/2006</text></g>
<g id="b52"><circle class="k" cx="1403.6" cy="1209.6" r="8"/><text class="b" x="1413" y="1215.4">CMH-S106-22</text></g>
<g id="b53"><circle class="k" cx="1403.6" cy="1230.2" r="8"/><text class="b" x="1413" y="1236">CMH-S113-22</text></g>
<g id="b54"><text class="b" x="1384.3" y="1256.6">MH118026.1/E25/India/2010</text></g>
<g id="b55"><text class="b" x="1370.2" y="1277.2">MF678298.1/E25/Australia/2008</text></g>
<g id="b56"><text class="b" x="1370.2" y="1297.8">MF678297.1/E25/Australia/2008</text></g>
<g id="b57"><text class="b" y="1318.3"><tspan class="stb" x="1414.4">★</tspan><tspan x="1428">AY302549/E25 prototype strain</tspan></text></g>
<g id="b58"><text class="b" x="1419.9" y="1338.9">MK514206.1/E6/Russia/2016</text></g>
<g id="b59"><text class="b" x="1418.6" y="1359.5">KY048074.1/E6/China/2014</text></g>
<g id="b60"><text class="b" x="1418.6" y="1380.1">MK514224.1/E6/Russia/2018</text></g>
<g id="b61"><text class="b" x="1417.3" y="1400.7">KX683346.1/E6/Poland/2012</text></g>
<g id="b62"><text class="b" x="1416.5" y="1421.2">KF487210.1/E6/China/2012</text></g>
<g id="b63"><text class="b" x="1422.9" y="1441.8">OQ713721.1/E6/China/2018</text></g>
<g id="b64"><text class="b" x="1418.6" y="1462.4">LC382891.1/E6/Japan/2014</text></g>
<g id="b65"><text class="b" x="1415.2" y="1483">KF487206.1/E6/China/2012</text></g>
<g id="b66"><circle class="k" cx="1421.6" cy="1497.8" r="8"/><text class="b" x="1430.6" y="1503.6">CMH-R005-20</text></g>
<g id="b67"><circle class="k" cx="1422.9" cy="1518.4" r="8"/><text class="b" x="1432.3" y="1524.2">CMH-ST087-20</text></g>
<g id="b68"><circle class="k" cx="1422.9" cy="1538.9" r="8"/><text class="b" x="1432.3" y="1544.7">CMH-ST092-20</text></g>
<g id="b69"><circle class="k" cx="1422.9" cy="1559.5" r="8"/><text class="b" x="1432.3" y="1565.3">CMH-ST089-20</text></g>
<g id="b70"><text class="b" y="1585.9"><tspan class="stb" x="1400.3">★</tspan><tspan x="1415.2">AY302558/E6 prototype strain</tspan></text></g>
<g id="b71"><circle class="k" cx="1344.2" cy="1600.7" r="8"/><text class="b" x="1353.7" y="1606.5">CMH-ST112-19</text></g>
<g id="b72"><circle class="k" cx="1344.2" cy="1621.3" r="8"/><text class="b" x="1353.7" y="1627.1">CMH-S168-19</text></g>
<g id="b73"><text class="b" x="1326.4" y="1647.7">JN203878.1/E20/India/2009</text></g>
<g id="b74"><text class="b" x="1329.2" y="1668.2">MT661854.1/E20/Uganda/2009</text></g>
<g id="b75"><text class="b" x="1328.7" y="1688.8">KJ472874.1/E20/Kenya/2009</text></g>
<g id="b76"><text class="b" x="1320.9" y="1709.4">GQ914872.1/E20/Georgia/2003</text></g>
<g id="b77"><text class="b" x="1322" y="1730">GQ914873.1/E20/Georgia/2004</text></g>
<g id="b78"><text class="b" y="1750.6"><tspan class="stb" x="1333.5">★</tspan><tspan x="1348.1">AY302546/E20 prototype strain</tspan></text></g>
<g id="b79"><circle class="k" cx="1386" cy="1765.4" r="8"/><text class="b" x="1396" y="1771.2">CMH-ST095-19</text></g>
<g id="b80"><circle class="k" cx="1386" cy="1785.9" r="8"/><text class="b" x="1396" y="1791.7">CMH-S003-19</text></g>
<g id="b81"><circle class="k" cx="1387" cy="1806.5" r="8"/><text class="b" x="1397" y="1812.3">CMH-R132-19</text></g>
<g id="b82"><circle class="k" cx="1386" cy="1827.1" r="8"/><text class="b" x="1397" y="1832.9">CMH-R081-19</text></g>
<g id="b83"><circle class="k" cx="1401.5" cy="1847.7" r="8"/><text class="b" x="1411.5" y="1853.5">CMH-R124-19</text></g>
<g id="b84"><circle class="k" cx="1394.3" cy="1868.3" r="8"/><text class="b" x="1403.7" y="1874.1">CMH-R125-19</text></g>
<g id="b85"><circle class="k" cx="1387" cy="1888.9" r="8"/><text class="b" x="1397" y="1894.7">CMH-R090-19</text></g>
<g id="b86"><text class="b" x="1373.7" y="1915.2">KJ472846.1/CV-B2/Kanya/2009</text></g>
<g id="b87"><text class="b" x="1369.3" y="1935.8">KJ632523.1/CV-B2/India/2010</text></g>
<g id="b88"><text class="b" x="1369.3" y="1956.4">KJ632524.1/CV-B2/India/2010</text></g>
<g id="b89"><text class="b" x="1369.3" y="1977">KJ632527.1/CV-B2/India/2011</text></g>
<g id="b90"><text class="b" y="1997.6"><tspan class="stb" x="1393.6">★</tspan><tspan x="1408.2">AF081485/CV-B2 prototype strain</tspan></text></g>
<g id="b91"><text class="b" x="1364.8" y="2018.2">MN535076.1/CV-B2/Russia/2015</text></g>
<g id="b92"><circle class="k" cx="1151.2" cy="2032.9" r="8"/><text class="b" x="1159.6" y="2038.7">CMH-ST097-19</text></g>
<g id="b93"><text class="b" x="1135.7" y="2059.3">KR107055.1/CV-B3/India/2009</text></g>
<g id="b94"><text class="b" x="1132.9" y="2079.9">LC382581.1/CV-B3/Japan/2015</text></g>
<g id="b95"><text class="b" y="2100.5"><tspan class="stb" x="1153.3">★</tspan><tspan x="1166.3">M88483/CV-B3 prototype strain</tspan></text></g>
<g id="b96"><text class="b" x="1131.8" y="2121.1">MZ396301.1/CV-B3/Nepal/2017</text></g>
</g>
</svg>
